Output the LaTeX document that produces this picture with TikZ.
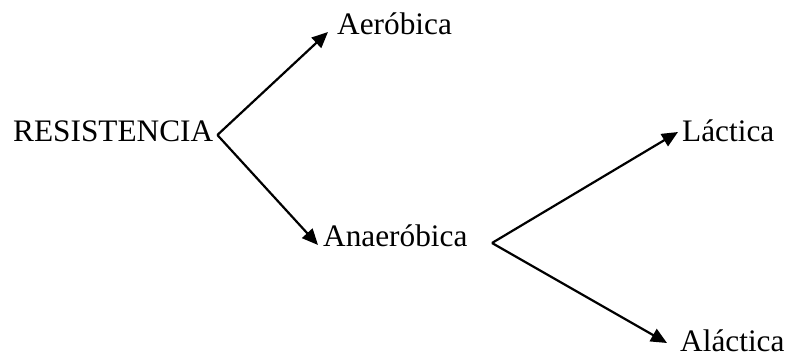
\documentclass[tikz,border=0pt]{standalone}
\usepackage{fontspec}
\setmainfont{Liberation Serif}
\usetikzlibrary{arrows.meta}
\begin{document}
\begin{tikzpicture}[x=1pt,y=-1pt,
  lbl/.style={inner sep=0pt, anchor=base west, font=\fontsize{31.3}{36}\selectfont},
  conn/.style={line width=2.2pt, -{Triangle[length=16pt,width=14pt]}}]
\useasboundingbox (0,0) rectangle (788,355);
\node[lbl] (res) at (13,142) {RESISTENCIA};
\node[lbl] (aer) at (337,35) {Aeróbica};
\node[lbl] (ana) at (323,247) {Anaeróbica};
\node[lbl] (lac) at (682,142) {Láctica};
\node[lbl] (alac) at (680,352) {Aláctica};
\coordinate (j1) at ([shift={(4,-7)}]res.base east);
\coordinate (j2) at (492,243);
\draw[conn] (j1) -- ([shift={(-9,-3)}]aer.base west);
\draw[conn] (j1) -- ([shift={(-5,-2)}]ana.base west);
\draw[conn] (j2) -- ([shift={(-4,-10)}]lac.base west);
\draw[conn] (j2) -- ([shift={(-13,-9)}]alac.base west);
\end{tikzpicture}
\end{document}
